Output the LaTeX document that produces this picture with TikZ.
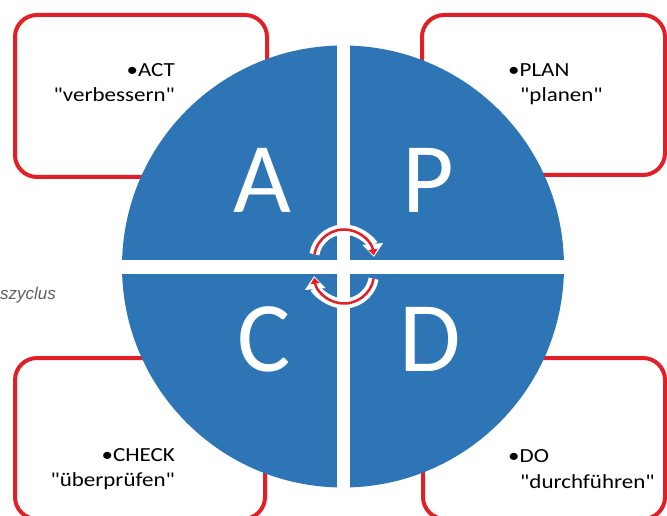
\documentclass[tikz,border=0pt]{standalone}
\usepackage{fontspec}
\setmainfont{Carlito}
\newfontfamily\boxfont[FakeStretch=1.15]{Carlito}
\newfontfamily\notefont{Liberation Sans}
\usetikzlibrary{arrows.meta}
\definecolor{pdcablue}{RGB}{46,117,182}
\definecolor{boxred}{RGB}{226,30,38}
\definecolor{notegray}{RGB}{95,95,95}
\begin{document}
\begin{tikzpicture}[x=1pt,y=1pt,
  box/.style={draw=boxred, line width=4pt, rounded corners=22pt, inner sep=0pt},
  lbl/.style={font=\boxfont\fontsize{20}{24}\selectfont, inner sep=0pt, text=black},
  letter/.style={font=\fontsize{100}{110}\selectfont, text=white, inner sep=0pt, anchor=base},
  note/.style={font=\notefont\itshape\fontsize{17}{20}\selectfont, text=notegray, inner sep=0pt},
  arrowback/.style={white, line width=10pt, -{Triangle[length=13pt,width=20pt]}},
  arrowfront/.style={boxred, line width=2.5pt, -{Triangle[length=6pt,width=9pt]}}
]
\useasboundingbox (0,0) rectangle (667,515);
% boxes
\node[box, minimum width=252pt, minimum height=162pt] (actbox) at (141,419) {};
\node[box, minimum width=243pt, minimum height=160pt] (planbox) at (543.5,420) {};
\node[box, minimum width=250pt, minimum height=161pt] (checkbox) at (140,76.5) {};
\node[box, minimum width=242pt, minimum height=161pt] (dobox) at (544,76.5) {};
% wheel
\node[circle, fill=pdcablue, minimum size=442pt, inner sep=0pt] (wheel) at (343,248.5) {};
\fill[white] (336.5,26) rectangle (349.5,471);
\fill[white] (120,241.5) rectangle (566,255.5);
% letters
\node[letter] (la) at (262,302) {A};
\node[letter] (lp) at (428,302) {P};
\node[letter] (lc) at (264,144) {C};
\node[letter] (ld) at (430,144) {D};
% centre arrows
\coordinate (tc) at (344,255.5);
\coordinate (bc) at (344,241.5);
\draw[arrowback] (tc) ++(170:30) arc[start angle=170, end angle=5, radius=30];
\draw[arrowback] (bc) ++(-10:30) arc[start angle=-10, end angle=-175, radius=30];
\draw[arrowfront] (tc) ++(170:30) arc[start angle=170, end angle=8, radius=30];
\draw[arrowfront] (bc) ++(-10:30) arc[start angle=-10, end angle=-172, radius=30];
% texts
\node[lbl, anchor=base east] (actA) at (175,438) {•ACT};
\node[lbl, anchor=base east] (actB) at (175,413) {"verbessern"};
\node[lbl, anchor=base west] (planA) at (508,438) {•PLAN};
\node[lbl, anchor=base west] (planB) at (520,413) {"planen"};
\node[lbl, anchor=base east] (checkA) at (175,54) {•CHECK};
\node[lbl, anchor=base east] (checkB) at (175,29) {"überprüfen"};
\node[lbl, anchor=base west] (doA) at (508,53) {•DO};
\node[lbl, anchor=base west] (doB) at (520,27) {"durchführen"};
\node[note, anchor=base west] (cyclenote) at (0,216) {szyclus};
\end{tikzpicture}
\end{document}
